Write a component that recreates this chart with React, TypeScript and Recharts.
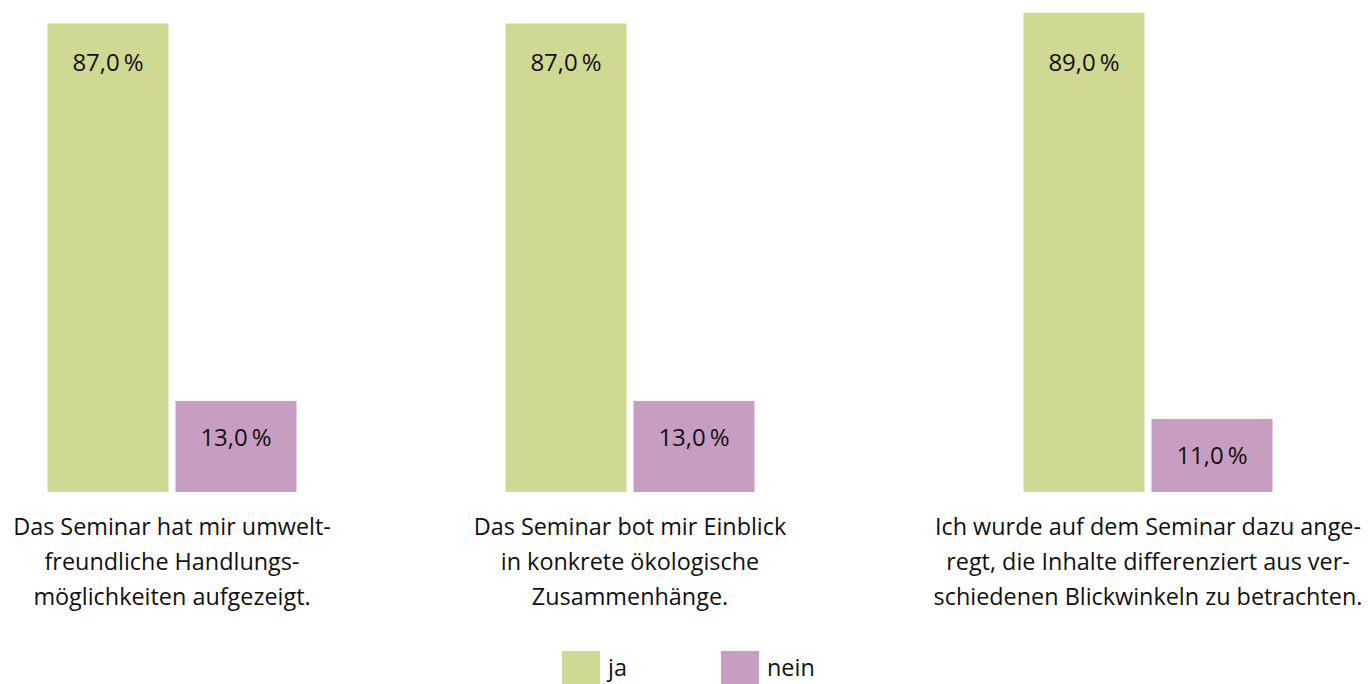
import React from "react";
import { BarChart, Bar, XAxis, YAxis, Legend } from "recharts";

const categories = [
  "Das Seminar hat mir umwelt-\nfreundliche Handlungs-\nmöglichkeiten aufgezeigt.",
  "Das Seminar bot mir Einblick\nin konkrete ökologische\nZusammenhänge.",
  "Ich wurde auf dem Seminar dazu ange-\nregt, die Inhalte differenziert aus ver-\nschiedenen Blickwinkeln zu betrachten.",
];
const jaValues = [87, 87, 89];
const neinValues = [13, 13, 11];
const seriesNames = ["ja", "nein"];

const GREEN = "#CFD994";
const PURPLE = "#C79EC1";
const TEXT = "#111111";
const FONT = "'Open Sans', 'Noto Sans', sans-serif";

const CHART_W = 500;
const CHART_H = 684;
const PLOT_TOP = 10;
const AXIS_H = 192;
const BAR_W = 121;
const BAR_GAP = 7;
const PLOT_W = 2 * BAR_W + BAR_GAP + 2;
const SIDE = (CHART_W - PLOT_W) / 2;
const chartLefts = [-78, 379.5, 897.5];

const fmt = (v: number) => v.toFixed(1).replace(".", ",") + "\u2009%";

const JaLabel = (p: any) => {
  const { x, y, width, height, value } = p;
  return (
    <text x={x + width / 2} y={y + height - 430.5} textAnchor="middle" dominantBaseline="central"
      fontSize={24} fontFamily={FONT} fill={TEXT}>{fmt(Number(value))}</text>
  );
};
const NeinLabel = (p: any) => {
  const { x, y, width, value } = p;
  return (
    <text x={x + width / 2} y={y + 35.5} textAnchor="middle" dominantBaseline="central"
      fontSize={24} fontFamily={FONT} fill={TEXT}>{fmt(Number(value))}</text>
  );
};

const CategoryTick = (p: any) => {
  const { x, y, payload } = p;
  const lines = String(payload.value).split("\n");
  return (
    <g>
      {lines.map((l, i) => (
        <text key={i} x={x} y={y + 43 + i * 35} textAnchor="middle" fontSize={23.4}
          fontFamily={FONT} fill={TEXT}>{l}</text>
      ))}
    </g>
  );
};

const LegendContent = (p: any) => {
  const items = p.payload || [];
  return (
    <div style={{ position: "relative", height: 34, fontFamily: FONT, fontSize: 23.4, color: TEXT }}>
      {items.map((e: any, i: number) => (
        <div key={i} style={{ position: "absolute", left: i * 159, top: 0, display: "flex", alignItems: "center", height: 34 }}>
          <div style={{ width: 38, height: 33, background: e.color }} />
          <span style={{ marginLeft: 8, lineHeight: "33px" }}>{e.value}</span>
        </div>
      ))}
    </div>
  );
};

export default function App() {
  return (
    <div style={{ position: "absolute", left: 0, top: 0, width: 1368, height: 684, overflow: "hidden", background: "#fff" }}>
      {categories.map((cat, i) => {
        const data = [{ category: cat, ja: jaValues[i], nein: neinValues[i] }];
        return (
          <div key={i} style={{ position: "absolute", left: chartLefts[i], top: 0 }}>
            <BarChart width={CHART_W} height={CHART_H} data={data}
              margin={{ top: PLOT_TOP, right: SIDE, bottom: 0, left: SIDE }}
              barGap={BAR_GAP} barCategoryGap={0}>
              <XAxis dataKey="category" axisLine={false} tickLine={false} tickSize={0} tickMargin={0}
                height={AXIS_H} interval={0} tick={<CategoryTick />} />
              <YAxis yAxisId="ja" hide type="number" domain={[0, 89.5]} allowDataOverflow />
              <YAxis yAxisId="nein" hide type="number" domain={[2.9, 56.46]} allowDataOverflow />
              <Bar yAxisId="ja" dataKey="ja" name={seriesNames[0]} fill={GREEN} barSize={BAR_W}
                isAnimationActive={false} label={<JaLabel />} />
              <Bar yAxisId="nein" dataKey="nein" name={seriesNames[1]} fill={PURPLE} barSize={BAR_W}
                isAnimationActive={false} label={<NeinLabel />} />
              {i === 1 && (
                <Legend layout="horizontal" verticalAlign="middle" content={<LegendContent />}
                  wrapperStyle={{ left: 182.5, top: 650, width: 320, height: 34 }} />
              )}
            </BarChart>
          </div>
        );
      })}
    </div>
  );
}
